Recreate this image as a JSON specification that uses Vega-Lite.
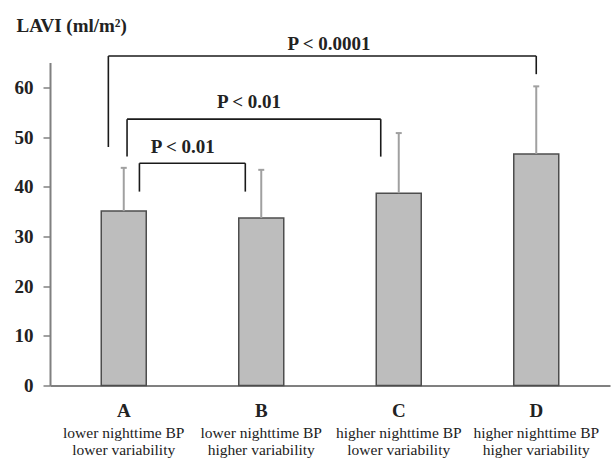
{
  "$schema": "https://vega.github.io/schema/vega-lite/v6.json",
  "width": 560,
  "height": 323,
  "autosize": {"type": "none"},
  "padding": {"left": 50, "top": 62.5, "right": 5, "bottom": 73.5},
  "background": "white",
  "config": {
    "view": {"stroke": null},
    "font": "Liberation Serif",
    "text": {"font": "Liberation Serif", "color": "#222222"}
  },
  "datasets": {
    "groups": [
      {"g": 1, "letter": "A", "desc": "lower nighttime BP\nlower variability", "mean": 35.1, "upper": 43.8},
      {"g": 2, "letter": "B", "desc": "lower nighttime BP\nhigher variability", "mean": 33.7, "upper": 43.4},
      {"g": 3, "letter": "C", "desc": "higher nighttime BP\nlower variability", "mean": 38.7, "upper": 50.8},
      {"g": 4, "letter": "D", "desc": "higher nighttime BP\nhigher variability", "mean": 46.6, "upper": 60.2}
    ],
    "brackets": [
      {"x": 0.888, "x2": 4.0, "y": 66.3, "y2": 66.3},
      {"x": 0.888, "x2": 0.888, "y": 48.0, "y2": 66.3},
      {"x": 4.0, "x2": 4.0, "y": 62.65, "y2": 66.3},
      {"x": 1.024, "x2": 2.869, "y": 53.6, "y2": 53.6},
      {"x": 1.024, "x2": 1.024, "y": 46.06, "y2": 53.6},
      {"x": 2.869, "x2": 2.869, "y": 46.06, "y2": 53.6},
      {"x": 1.114, "x2": 1.884, "y": 44.73, "y2": 44.73},
      {"x": 1.114, "x2": 1.114, "y": 39.02, "y2": 44.73},
      {"x": 1.884, "x2": 1.884, "y": 39.02, "y2": 44.73}
    ],
    "pvals": [
      {"x": 2.493, "y": 68.65, "label": "P < 0.0001"},
      {"x": 1.911, "y": 57.14, "label": "P < 0.01"},
      {"x": 1.429, "y": 47.96, "label": "P < 0.01"}
    ]
  },
  "layer": [
    {
      "data": {"name": "groups"},
      "mark": {"type": "bar", "size": 45, "fill": "#bdbdbd", "stroke": "#4d4d4d", "strokeWidth": 1.5},
      "encoding": {
        "x": {
          "field": "g", "type": "quantitative",
          "scale": {"domain": [0.5, 4.5], "nice": false, "zero": false},
          "axis": {"labels": false, "ticks": false, "grid": false, "title": null, "domainColor": "#808080", "domainWidth": 2}
        },
        "y": {
          "field": "mean", "type": "quantitative",
          "scale": {"domain": [0, 65], "nice": false},
          "axis": {
            "values": [0, 10, 20, 30, 40, 50, 60],
            "grid": false,
            "domainColor": "#808080", "domainWidth": 2,
            "tickColor": "#808080", "tickWidth": 1.5, "tickSize": 7,
            "labelFont": "Liberation Serif", "labelFontSize": 19, "labelFontWeight": "bold", "labelColor": "#222222", "labelPadding": 10,
            "title": "LAVI (ml/m²)",
            "titleFont": "Liberation Serif", "titleFontSize": 19, "titleFontWeight": "bold", "titleColor": "#222222",
            "titleAngle": 0, "titleX": -34, "titleY": -37, "titleAlign": "left", "titleBaseline": "middle"
          }
        }
      }
    },
    {
      "data": {"name": "groups"},
      "mark": {"type": "rule", "color": "#a0a0a0", "strokeWidth": 2},
      "encoding": {
        "x": {"field": "g", "type": "quantitative"},
        "y": {"field": "mean", "type": "quantitative"},
        "y2": {"field": "upper"}
      }
    },
    {
      "data": {"name": "groups"},
      "mark": {"type": "point", "shape": "M-1,0L1,0", "size": 36, "filled": false, "stroke": "#a0a0a0", "strokeWidth": 2, "opacity": 1},
      "encoding": {
        "x": {"field": "g", "type": "quantitative"},
        "y": {"field": "upper", "type": "quantitative"}
      }
    },
    {
      "data": {"name": "brackets"},
      "mark": {"type": "rule", "color": "#1a1a1a", "strokeWidth": 1.6},
      "encoding": {
        "x": {"field": "x", "type": "quantitative"},
        "x2": {"field": "x2"},
        "y": {"field": "y", "type": "quantitative"},
        "y2": {"field": "y2"}
      }
    },
    {
      "data": {"name": "pvals"},
      "mark": {"type": "text", "fontSize": 19, "fontWeight": "bold", "align": "center", "baseline": "middle"},
      "encoding": {
        "x": {"field": "x", "type": "quantitative"},
        "y": {"field": "y", "type": "quantitative"},
        "text": {"field": "label"}
      }
    },
    {
      "data": {"name": "groups"},
      "mark": {"type": "text", "fontSize": 19, "fontWeight": "bold", "align": "center", "baseline": "middle", "dy": 25},
      "encoding": {
        "x": {"field": "g", "type": "quantitative"},
        "y": {"datum": 0},
        "text": {"field": "letter"}
      }
    },
    {
      "data": {"name": "groups"},
      "mark": {"type": "text", "fontSize": 15.5, "align": "center", "baseline": "middle", "dy": 47, "lineBreak": "\n", "lineHeight": 17},
      "encoding": {
        "x": {"field": "g", "type": "quantitative"},
        "y": {"datum": 0},
        "text": {"field": "desc"}
      }
    }
  ]
}
